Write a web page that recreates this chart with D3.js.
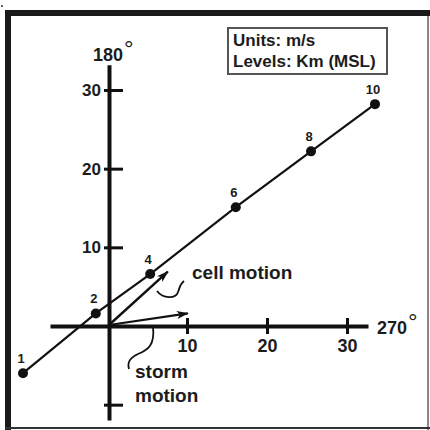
<!DOCTYPE html>
<html>
<head>
<meta charset="utf-8">
<script src="https://cdn.jsdelivr.net/npm/d3@7"></script>
<style>
  html, body { margin: 0; padding: 0; background: #fff; }
  svg { display: block; }
  text { font-family: "Liberation Sans", Arial, Helvetica, sans-serif; fill: #1c1c1c; }
</style>
</head>
<body>
<svg id="chart" width="430" height="430"></svg>
<script>
// ---- data (wind components, m/s) ----
const levels = ["1", "2", "4", "6", "8", "10"];          // km MSL
const uWind  = [-10.5, -1.4, 5.4, 16.1, 25.5, 33.5];     // toward 270°
const vWind  = [-6.0, 1.6, 6.6, 15.1, 22.2, 28.2];       // toward 180°
const xTicks = [10, 20, 30];
const yTicks = [-10, 10, 20, 30];
const cellMotion  = [7.6, 6.9];
const stormMotion = [10.1, 1.6];
const legendLines = ["Units: m/s", "Levels: Km (MSL)"];
const xAxisTitle = "270";
const yAxisTitle = "180";

// ---- layout ----
const svg = d3.select("#chart");
const X0 = 107, KX = 8, Y0 = 326, KY = 7.867;
const x = d3.scaleLinear().domain([-7.125, 32.625]).range([X0 - 7.125 * KX, X0 + 32.625 * KX]);
const y = d3.scaleLinear().domain([-11.95, 33.2]).range([Y0 + 11.95 * KY, Y0 - 33.2 * KY]);

// frame
svg.append("rect").attr("x", 1).attr("y", 5).attr("width", 2).attr("height", 2).attr("fill", "#666");
svg.append("rect").attr("x", 5).attr("y", 10).attr("width", 425).attr("height", 6).attr("fill", "#1a1a1a");
svg.append("rect").attr("x", 5).attr("y", 10).attr("width", 6).attr("height", 420).attr("fill", "#1a1a1a");
svg.append("line").attr("x1", 428).attr("x2", 428).attr("y1", 16).attr("y2", 430)
  .attr("stroke", "#888").attr("stroke-width", 2);
svg.append("line").attr("x1", 5).attr("x2", 430).attr("y1", 428).attr("y2", 428)
  .attr("stroke", "#333").attr("stroke-width", 2);

// axes
const xAxis = d3.axisBottom(x).tickValues(xTicks).tickSize(0).tickSizeOuter(0).tickPadding(13);
const gx = svg.append("g").attr("transform", `translate(0,${y(0)})`).call(xAxis);
gx.select(".domain").attr("stroke", "#111").attr("stroke-width", 4);
gx.selectAll(".tick line").attr("y1", -8).attr("y2", 8).attr("stroke", "#111").attr("stroke-width", 3);
gx.selectAll(".tick text").attr("font-size", 18).attr("font-weight", "bold")
  .attr("font-family", "Liberation Sans, Arial, sans-serif").attr("fill", "#1c1c1c");

const yAxis = d3.axisLeft(y).tickValues(yTicks).tickSize(0).tickSizeOuter(0).tickPadding(8)
  .tickFormat(d => d > 0 ? d : "");
const gy = svg.append("g").attr("transform", `translate(${x(0) + 2},0)`).call(yAxis);
gy.select(".domain").attr("stroke", "#111").attr("stroke-width", 4);
gy.selectAll(".tick line").attr("x1", -5).attr("x2", 14).attr("stroke", "#111").attr("stroke-width", 3);
gy.selectAll(".tick text").attr("font-size", 17).attr("font-weight", "bold")
  .attr("font-family", "Liberation Sans, Arial, sans-serif").attr("fill", "#1c1c1c");

// axis titles with degree marks
const t270 = svg.append("text").attr("x", 377).attr("y", 334)
  .attr("font-size", 18).attr("font-weight", "bold").text(xAxisTitle);
t270.append("tspan").attr("dy", -4).attr("dx", 1).attr("font-size", 24).attr("font-weight", "normal").text("°");
const t180 = svg.append("text").attr("x", 93).attr("y", 61)
  .attr("font-size", 18).attr("font-weight", "bold").text(yAxisTitle);
t180.append("tspan").attr("dy", -4).attr("dx", 1).attr("font-size", 24).attr("font-weight", "normal").text("°");

// legend box
svg.append("rect").attr("x", 228).attr("y", 28).attr("width", 159).attr("height", 46)
  .attr("fill", "none").attr("stroke", "#555").attr("stroke-width", 2);
svg.selectAll("text.legend").data(legendLines).enter().append("text")
  .attr("class", "legend").attr("x", 233).attr("y", (d, i) => 46 + i * 21)
  .attr("font-size", 17).attr("font-weight", "bold").text(d => d);

// arrow markers
const defs = svg.append("defs");
defs.append("marker").attr("id", "arrow").attr("viewBox", "-12 -6 14 12")
  .attr("refX", 0).attr("refY", 0).attr("markerWidth", 14).attr("markerHeight", 12)
  .attr("markerUnits", "userSpaceOnUse").attr("orient", "auto")
  .append("path").attr("d", "M1,0 L-11,-4 L-8,0 L-11,4 Z").attr("fill", "#111");

// motion vectors
svg.append("line").attr("x1", x(0) + 2).attr("y1", y(0) - 1)
  .attr("x2", x(cellMotion[0])).attr("y2", y(cellMotion[1]))
  .attr("stroke", "#111").attr("stroke-width", 2.4).attr("marker-end", "url(#arrow)");
svg.append("line").attr("x1", x(0) + 2).attr("y1", y(0) - 1)
  .attr("x2", x(stormMotion[0])).attr("y2", y(stormMotion[1]))
  .attr("stroke", "#111").attr("stroke-width", 2.2).attr("marker-end", "url(#arrow)");

// hodograph
const pts = levels.map((l, i) => ({ level: l, u: uWind[i], v: vWind[i] }));
svg.append("path").datum(pts)
  .attr("d", d3.line().x(d => x(d.u)).y(d => y(d.v)))
  .attr("fill", "none").attr("stroke", "#111").attr("stroke-width", 2.2);
svg.selectAll("circle.pt").data(pts).enter().append("circle")
  .attr("class", "pt").attr("cx", d => x(d.u)).attr("cy", d => y(d.v)).attr("r", 5)
  .attr("fill", "#111");
svg.selectAll("text.lvl").data(pts).enter().append("text")
  .attr("class", "lvl").attr("x", d => x(d.u) - 2).attr("y", d => y(d.v) - 10)
  .attr("text-anchor", "middle").attr("font-size", 13).attr("font-weight", "bold")
  .text(d => d.level);

// annotations
svg.append("text").attr("x", 192).attr("y", 279).attr("font-size", 19).attr("font-weight", "bold").text("cell motion");
svg.append("path").attr("d", "M157,291 C163,299 176,299 178,292 C180,287 180,284 184,281")
  .attr("fill", "none").attr("stroke", "#111").attr("stroke-width", 1.8);
svg.append("text").attr("x", 135).attr("y", 378).attr("font-size", 19).attr("font-weight", "bold").text("storm");
svg.append("text").attr("x", 135).attr("y", 402).attr("font-size", 19).attr("font-weight", "bold").text("motion");
svg.append("path").attr("d", "M153,327 C155,345 148,350 138,354 C130,358 127,362 129,369")
  .attr("fill", "none").attr("stroke", "#111").attr("stroke-width", 1.8);
</script>
</body>
</html>
